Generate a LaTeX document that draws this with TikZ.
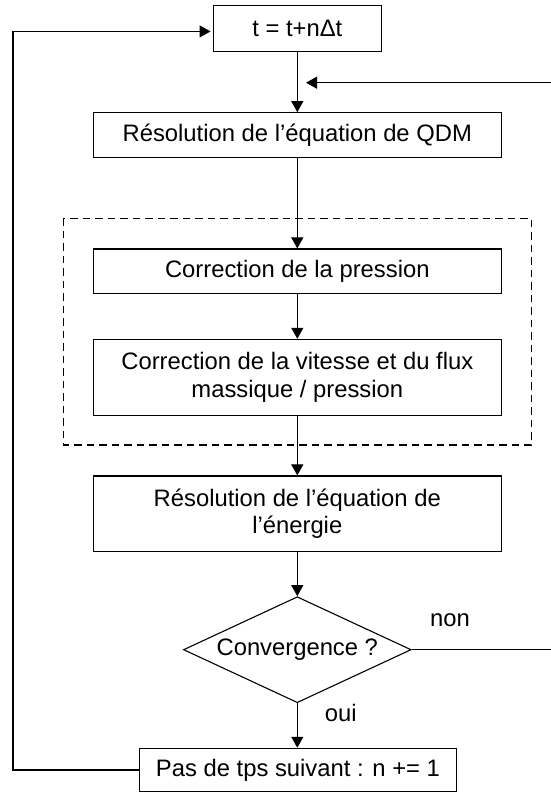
\documentclass[tikz,border=0pt]{standalone}
\usepackage{fontspec}
\setmainfont{Liberation Sans}
\usetikzlibrary{arrows.meta,shapes.geometric}

\begin{document}
\begin{tikzpicture}[x=1pt,y=-1pt,
  txt/.style={font=\fontsize{23.8}{27.6}\selectfont},
  box/.style={draw, line width=1.1pt, inner sep=0pt, align=center, txt},
  decision/.style={draw, diamond, line width=1.1pt, inner sep=0pt, aspect=2.15, txt},
  ln/.style={line width=1.1pt},
  arr/.style={line width=1.1pt, -{Triangle[length=11pt,width=12pt]}},
  group/.style={line width=1.1pt, dash pattern=on 7.5pt off 5pt}
]
\useasboundingbox (0,0) rectangle (551,793);

% dashed group frame
\draw[group] (63.3,218.3) rectangle (531.3,445);

% nodes
\node[box, minimum width=168.4pt, minimum height=46.7pt] (t) at (297.3,28.4) {t = t+nΔt};
\node[box, minimum width=408pt, minimum height=45pt] (qdm) at (297.3,135.2) {Résolution de l’équation de QDM};
\node[box, minimum width=408pt, minimum height=44.3pt] (corrp) at (297.3,271.1) {Correction de la pression};
\node[box, minimum width=408pt, minimum height=75.7pt] (vit) at (297.3,377.2) {Correction de la vitesse et du flux\\massique / pression};
\node[box, minimum width=408pt, minimum height=75.7pt] (ene) at (297.3,513.8) {Résolution de l’équation de\\l’énergie};
\node[decision, minimum width=227.7pt, minimum height=106pt] (conv) at (297.3,649.7) {Convergence ?};
\node[box, minimum width=317.4pt, minimum height=43.4pt] (pas) at (298,770) {Pas de tps suivant : n += 1};

\node[txt, inner sep=0pt] (non) at (450,620.7) {non};
\node[txt, inner sep=0pt] (oui) at (340.7,712.7) {oui};

% helper coordinates
\coordinate (lc) at (13,0);
\coordinate (rb) at (551,649.7);
\coordinate (rt) at (551,82.7);
\coordinate (j) at (297.3,82.7);

% main flow
\draw[arr] (t) -- (qdm);
\draw[arr] (qdm) -- (corrp);
\draw[arr] (corrp) -- (vit);
\draw[arr] (vit) -- (ene);
\draw[arr] (ene) -- (conv);
\draw[arr] (conv.south) -- (pas.north -| conv.south);

% non loop
\draw[ln] (conv.east) -- (rb);
\draw[arr, shorten >=8.7pt] (rt) -- (j);

% time-step loop
\draw[arr, shorten >=2pt] (pas.west) -- (pas.west -| lc) |- ([yshift=-3pt]t.west);
\end{tikzpicture}
\end{document}
